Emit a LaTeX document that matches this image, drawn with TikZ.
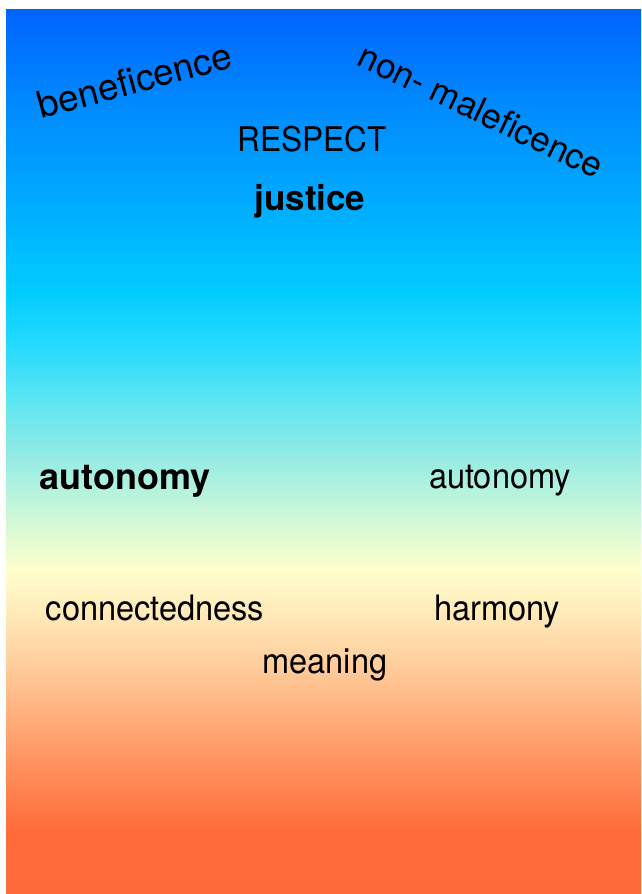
\documentclass[tikz,border=0pt]{standalone}
\usepackage{fontspec}
\setmainfont{TeX Gyre Heros}
\newfontfamily\regf{TeX Gyre Heros}[FakeStretch=0.93]
\definecolor{s1}{HTML}{0064FF}
\definecolor{s2}{HTML}{0088FF}
\definecolor{s3}{HTML}{00AAFF}
\definecolor{s4}{HTML}{00CCFF}
\definecolor{s5}{HTML}{22D8FF}
\definecolor{s6}{HTML}{5CE6F2}
\definecolor{s7}{HTML}{8EEAE6}
\definecolor{s8}{HTML}{C8F6DA}
\definecolor{s9}{HTML}{FFFFCC}
\definecolor{s10}{HTML}{FFE6B6}
\definecolor{s11}{HTML}{FFBE8C}
\definecolor{s12}{HTML}{FF9460}
\definecolor{s13}{HTML}{FF6C3A}
\definecolor{s14}{HTML}{FF6A3A}
\pgfdeclareverticalshading{skyshade}{100bp}{%
color(0bp)=(s14); color(25bp)=(s14); color(28.62bp)=(s13);
color(32.57bp)=(s12); color(36.53bp)=(s11); color(40.48bp)=(s10);
color(43.31bp)=(s9); color(46.69bp)=(s8); color(50.08bp)=(s7);
color(52.91bp)=(s6); color(56.30bp)=(s5); color(59.12bp)=(s4);
color(64.21bp)=(s3); color(69.86bp)=(s2); color(75bp)=(s1);
color(100bp)=(s1)}
\tikzset{
  reg/.style={font=\regf\fontsize{35}{40}\selectfont, anchor=base, inner sep=0pt, text=black},
  bld/.style={font=\fontsize{35}{40}\selectfont\bfseries, anchor=base, inner sep=0pt, text=black},
  tilt/.style={font=\fontsize{37}{40}\selectfont, anchor=base, inner sep=0pt, text=black}
}
\begin{document}
\begin{tikzpicture}[x=1pt,y=-1pt]
\useasboundingbox (0,0) rectangle (641,894);
\fill[white] (0,0) rectangle (641,894);
\path[shading=skyshade] (6,9) rectangle (641,894);
\node[tilt, rotate=15] (benef) at (138,93) {beneficence};
\node[tilt, font=\fontsize{35}{40}\selectfont, rotate=-25.5] (nonmal) at (476,122) {non- maleficence};
\node[reg, font=\regf\fontsize{34}{40}\selectfont] (respect) at (312,151) {RESPECT};
\node[bld] (justice) at (310,210) {justice};
\node[bld, font=\fontsize{36}{40}\selectfont\bfseries] (autoL) at (125,489) {autonomy};
\node[reg] (autoR) at (500,488) {autonomy};
\node[reg] (conn) at (155,620) {connectedness};
\node[reg] (harm) at (497,620) {harmony};
\node[reg] (mean) at (325,673) {meaning};
\end{tikzpicture}
\end{document}
